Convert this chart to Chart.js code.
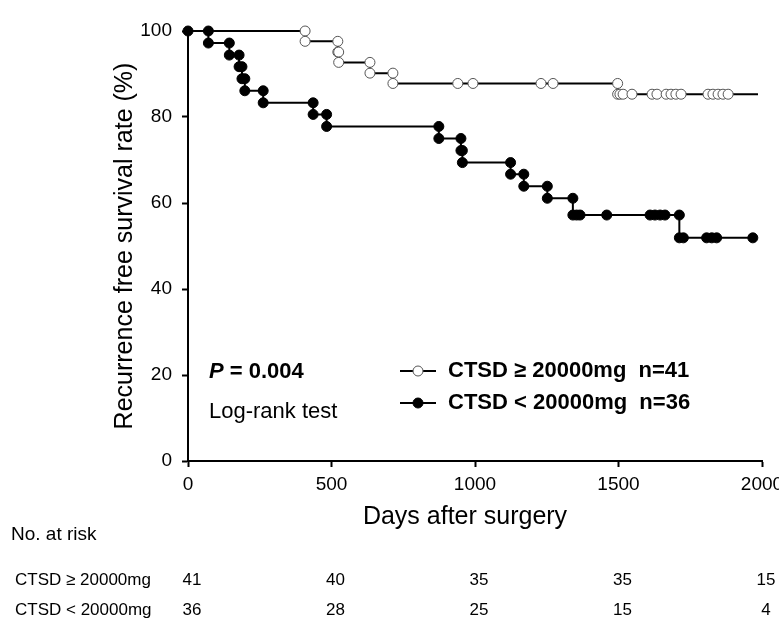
<!DOCTYPE html>
<html>
<head>
    <title>Recurrence free survival by CTSD</title>
    <script src="https://cdn.jsdelivr.net/npm/chart.js"></script>
    <style>
        html, body {
            margin: 0;
            padding: 0;
            background: #fff;
        }
        #wrap {
            width: 779px;
            height: 621px;
        }
    </style>
</head>
<body>
    <div id="wrap"><canvas id="km"></canvas></div>

    <script>
        // CTSD >= 20000mg (open circles): event days and survival after each event
        const highEventDays = [408, 522, 525, 634, 714, 1497];
        const highEventSurv = [97.6, 95.1, 92.7, 90.2, 87.8, 85.3];
        const highCensorDays = [940, 993, 1230, 1272, 1505, 1516, 1547, 1617, 1634, 1666, 1683, 1700, 1718, 1812, 1829, 1847, 1864, 1882];
        const highLastDay = 1986;

        // CTSD < 20000mg (filled circles)
        const lowEventDays = [71, 144, 178, 188, 198, 262, 436, 483, 874, 951, 956, 1124, 1170, 1252, 1341, 1712];
        const lowEventSurv = [97.2, 94.4, 91.7, 88.9, 86.1, 83.3, 80.6, 77.8, 75.0, 72.2, 69.4, 66.7, 63.9, 61.1, 57.2, 51.9];
        const lowCensorDays = [1354, 1366, 1459, 1610, 1627, 1645, 1662, 1726, 1807, 1825, 1842, 1968];
        const lowLastDay = 1968;

        // number at risk table
        const riskDays = [0, 500, 1000, 1500, 2000];
        const riskHigh = [41, 40, 35, 35, 15];
        const riskLow = [36, 28, 25, 15, 4];

        const FONT = "'Liberation Sans', Arial, sans-serif";

        // step line points; m = draw a marker at that corner
        function stepPoints(days, surv, lastDay, markStart) {
            const pts = [{x: 0, y: 100, m: markStart}];
            let prev = 100;
            for (let i = 0; i < days.length; i++) {
                pts.push({x: days[i], y: prev, m: true});
                pts.push({x: days[i], y: surv[i], m: true});
                prev = surv[i];
            }
            pts.push({x: lastDay, y: prev, m: false});
            return pts;
        }

        // survival level at a censoring day (value of the step at that time)
        function censorPoints(cDays, days, surv) {
            return cDays.map(d => {
                let s = 100;
                for (let i = 0; i < days.length; i++) {
                    if (days[i] <= d) s = surv[i];
                }
                return {x: d, y: s};
            });
        }

        const markerRadius = ctx => (ctx.raw && ctx.raw.m ? 5 : 0);

        const extrasPlugin = {
            id: 'extras',
            afterDraw(chart) {
                const c = chart.ctx;
                const xs = chart.scales.x;
                c.save();
                c.fillStyle = '#000';
                c.textBaseline = 'middle';

                // P value
                c.textAlign = 'left';
                c.font = 'italic bold 22px ' + FONT;
                c.fillText('P', 209, 372);
                const pw = c.measureText('P').width;
                c.font = 'bold 22px ' + FONT;
                c.fillText(' = 0.004', 209 + pw, 372);
                c.font = '22px ' + FONT;
                c.fillText('Log-rank test', 209, 412);

                // legend
                const legendRows = [
                    {y: 371, fill: '#fff', stroke: '#555', text: 'CTSD \u2265 20000mg  n=41'},
                    {y: 403, fill: '#000', stroke: '#000', text: 'CTSD < 20000mg  n=36'}
                ];
                legendRows.forEach(r => {
                    c.strokeStyle = '#000';
                    c.lineWidth = 2;
                    c.beginPath();
                    c.moveTo(400, r.y);
                    c.lineTo(436, r.y);
                    c.stroke();
                    c.beginPath();
                    c.arc(418, r.y, 5, 0, Math.PI * 2);
                    c.fillStyle = r.fill;
                    c.fill();
                    c.lineWidth = 1;
                    c.strokeStyle = r.stroke;
                    c.stroke();
                    c.fillStyle = '#000';
                    c.font = 'bold 22px ' + FONT;
                    c.fillText(r.text, 448, r.y);
                });

                // x axis title
                c.textAlign = 'center';
                c.font = '25px ' + FONT;
                c.fillText('Days after surgery', 465, 517);

                // number at risk
                c.textAlign = 'left';
                c.font = '19px ' + FONT;
                c.fillText('No. at risk', 11, 535);
                c.font = '17px ' + FONT;
                c.fillText('CTSD \u2265 20000mg', 15, 580);
                c.fillText('CTSD < 20000mg', 15, 610);
                c.textAlign = 'center';
                riskDays.forEach((d, i) => {
                    const px = xs.getPixelForValue(d);
                    c.fillText(String(riskHigh[i]), px + 4, 580);
                    c.fillText(String(riskLow[i]), px + 4, 610);
                });
                c.restore();
            }
        };

        new Chart(document.getElementById('km'), {
            type: 'scatter',
            data: {
                datasets: [
                    {
                        data: stepPoints(lowEventDays, lowEventSurv, lowLastDay, true),
                        showLine: true,
                        borderColor: '#000',
                        borderWidth: 2,
                        pointRadius: markerRadius,
                        pointBackgroundColor: '#000',
                        pointBorderColor: '#000',
                        pointBorderWidth: 1,
                        clip: false
                    },
                    {
                        data: censorPoints(lowCensorDays, lowEventDays, lowEventSurv),
                        showLine: false,
                        pointRadius: 5,
                        pointBackgroundColor: '#000',
                        pointBorderColor: '#000',
                        pointBorderWidth: 1,
                        clip: false
                    },
                    {
                        data: censorPoints(highCensorDays, highEventDays, highEventSurv),
                        showLine: false,
                        pointRadius: 5,
                        pointBackgroundColor: '#fff',
                        pointBorderColor: '#555',
                        pointBorderWidth: 1,
                        clip: false
                    },
                    {
                        data: stepPoints(highEventDays, highEventSurv, highLastDay, false),
                        showLine: true,
                        borderColor: '#000',
                        borderWidth: 2,
                        pointRadius: markerRadius,
                        pointBackgroundColor: '#fff',
                        pointBorderColor: '#555',
                        pointBorderWidth: 1,
                        clip: false
                    }
                ]
            },
            options: {
                responsive: true,
                maintainAspectRatio: false,
                animation: false,
                layout: {
                    padding: {top: 31, right: 17, left: 0, bottom: 0}
                },
                plugins: {
                    legend: {display: false},
                    tooltip: {enabled: false}
                },
                scales: {
                    x: {
                        type: 'linear',
                        min: 0,
                        max: 2000,
                        ticks: {
                            stepSize: 500,
                            color: '#000',
                            padding: 6,
                            font: {family: FONT, size: 19},
                            callback: v => String(v)
                        },
                        grid: {
                            drawOnChartArea: false,
                            tickLength: 6,
                            tickWidth: 2,
                            tickColor: '#000'
                        },
                        border: {color: '#000', width: 2},
                        afterFit(s) {
                            s.height = 160;
                            s.paddingLeft = 0;
                            s.paddingRight = 0;
                        }
                    },
                    y: {
                        min: 0,
                        max: 100,
                        ticks: {
                            stepSize: 20,
                            color: '#000',
                            padding: 10,
                            font: {family: FONT, size: 19},
                            callback: v => String(v)
                        },
                        grid: {
                            drawOnChartArea: false,
                            tickLength: 6,
                            tickWidth: 2,
                            tickColor: '#000'
                        },
                        border: {color: '#000', width: 2},
                        title: {
                            display: true,
                            text: 'Recurrence free survival rate (%)',
                            color: '#000',
                            font: {family: FONT, size: 25},
                            padding: {top: 110, bottom: 0}
                        },
                        afterFit(s) {
                            s.width = 188;
                            s.paddingTop = 0;
                            s.paddingBottom = 0;
                        }
                    }
                }
            },
            plugins: [extrasPlugin]
        });
    </script>
</body>
</html>
